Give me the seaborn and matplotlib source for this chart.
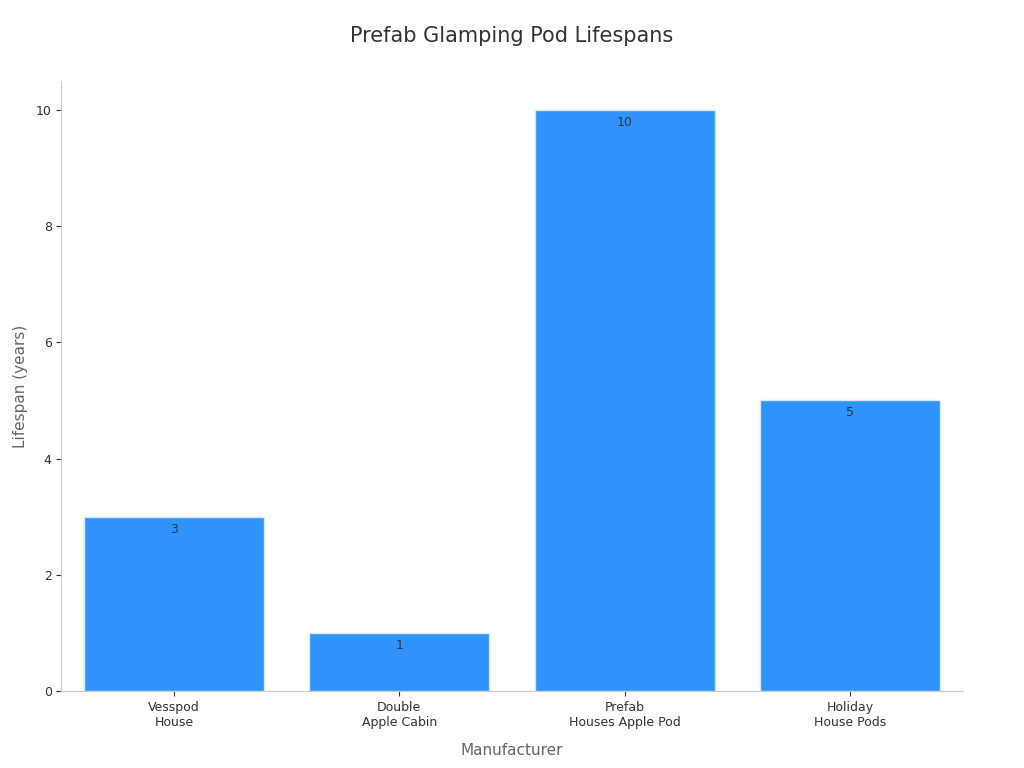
import matplotlib
matplotlib.use("Agg")
import matplotlib.pyplot as plt
import seaborn as sns
import pandas as pd

manufacturers = ["Vesspod\nHouse", "Double\nApple Cabin", "Prefab\nHouses Apple Pod", "Holiday\nHouse Pods"]
lifespans = [3, 1, 10, 5]

sns.set_style("ticks")
plt.rcParams['font.family'] = ['DejaVu Sans']

df = pd.DataFrame({"Manufacturer": manufacturers, "Lifespan": lifespans})

fig, ax = plt.subplots(figsize=(10.24, 7.68), dpi=100)
sns.barplot(data=df, x="Manufacturer", y="Lifespan", color="#2e93fa", saturation=1,
            width=0.8, edgecolor="#d8e8f8", linewidth=1, ax=ax)
for i, v in enumerate(lifespans):
    ax.text(i, v - 0.1, str(v), ha="center", va="top", fontsize=9, color="#333333")

ax.set_title("Prefab Glamping Pod Lifespans", fontsize=15, color="#333333", pad=28)
ax.set_xlabel("Manufacturer", fontsize=11, color="#666666", labelpad=10)
ax.set_ylabel("Lifespan (years)", fontsize=11, color="#666666", labelpad=6)
ax.tick_params(labelsize=9, colors="#333333")
for s in ["left", "bottom"]:
    ax.spines[s].set_color("#cccccc")
sns.despine(ax=ax)
ax.set_ylim(0, 10.5)
ax.set_xlim(-0.5, 3.5)
plt.subplots_adjust(left=0.06, right=0.94, top=0.895, bottom=0.1)
fig.savefig("out.png")
